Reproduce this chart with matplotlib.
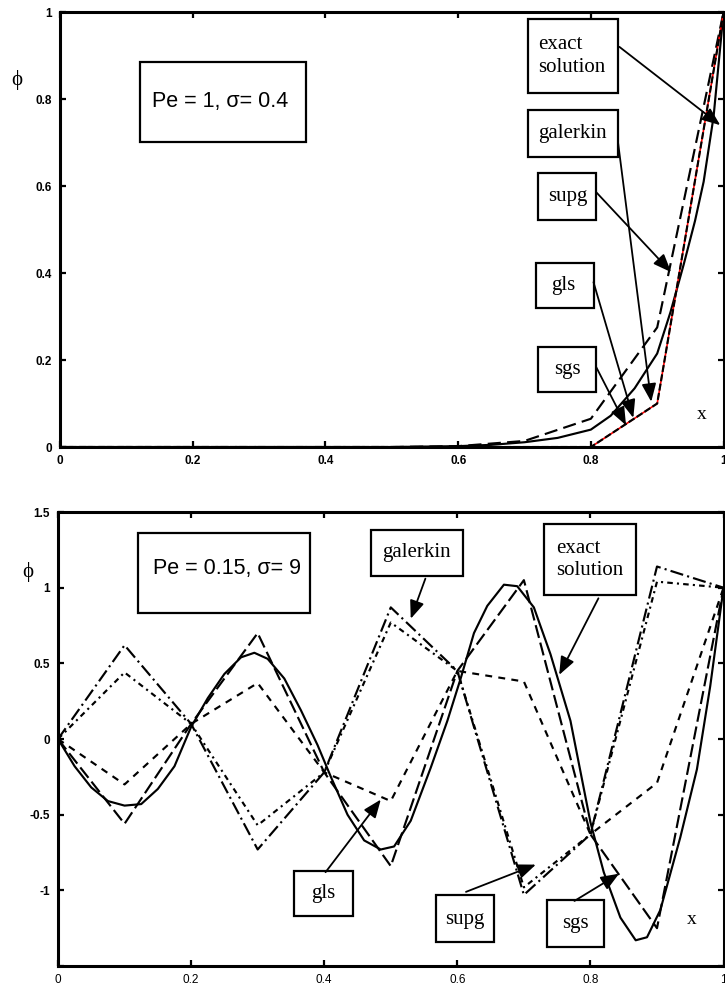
import numpy as np
import matplotlib
matplotlib.use("Agg")
import matplotlib.pyplot as plt
from matplotlib.patches import Rectangle

# ---- datos ----
nodos = [0.0, 0.1, 0.2, 0.3, 0.4, 0.5, 0.6, 0.7, 0.8, 0.9, 1.0]

# panel superior: Pe = 1, sigma = 0.4
x_exacta_1 = [0.0, 0.1, 0.2, 0.3, 0.4, 0.5, 0.6, 0.65, 0.7, 0.75, 0.8, 0.83,
              0.866, 0.9, 0.92, 0.94, 0.957, 0.97, 0.985, 1.0]
y_exacta_1 = [0.0, 0.0, 0.0, 0.0, 0.0, 0.0, 0.002, 0.005, 0.011, 0.021, 0.04,
              0.072, 0.135, 0.215, 0.31, 0.42, 0.52, 0.61, 0.76, 1.0]
supg_1 = [0.0, 0.0, 0.0, 0.0, 0.0, 0.0, 0.002, 0.014, 0.065, 0.275, 1.0]
galerkin_1 = [0.0, 0.0, 0.0, 0.0, 0.0, 0.0, 0.0, 0.0, 0.0, 0.10, 1.0]
gls_sgs_1 = [0.0, 0.0, 0.0, 0.0, 0.0, 0.0, 0.0, 0.0, 0.0, 0.10, 1.0]

# panel inferior: Pe = 0.15, sigma = 9
x_exacta_2 = [0.0, 0.025, 0.05, 0.075, 0.1, 0.125, 0.15, 0.175, 0.2, 0.225,
              0.25, 0.275, 0.295, 0.315, 0.34, 0.365, 0.39, 0.41, 0.435, 0.46,
              0.485, 0.505, 0.53, 0.56, 0.585, 0.605, 0.625, 0.645, 0.67, 0.69,
              0.715, 0.74, 0.77, 0.8, 0.82, 0.845, 0.868, 0.885, 0.905, 0.935,
              0.96, 0.98, 1.0]
y_exacta_2 = [0.0, -0.18, -0.32, -0.41, -0.44, -0.43, -0.33, -0.18, 0.08, 0.27,
              0.43, 0.54, 0.57, 0.53, 0.40, 0.19, -0.04, -0.25, -0.50, -0.67,
              -0.73, -0.71, -0.54, -0.19, 0.12, 0.40, 0.70, 0.88, 1.02, 1.01,
              0.87, 0.56, 0.12, -0.55, -0.88, -1.18, -1.33, -1.31, -1.13, -0.65,
              -0.20, 0.35, 1.0]
galerkin_2 = [0.0, 0.62, 0.10, -0.73, -0.22, 0.87, 0.45, -1.03, -0.63, 1.14, 1.0]
supg_2 = [0.0, 0.44, 0.10, -0.57, -0.22, 0.77, 0.45, -0.98, -0.63, 1.04, 1.0]
gls_2 = [0.0, -0.30, 0.10, 0.37, -0.22, -0.41, 0.45, 0.38, -0.63, -0.29, 1.0]
sgs_2 = [0.0, -0.56, 0.10, 0.70, -0.22, -0.84, 0.45, 1.05, -0.63, -1.25, 1.0]

plt.rcParams['lines.scale_dashes'] = False

pe_font = ['Liberation Sans', 'DejaVu Sans']
pe_size = 15.5
serif = ['Liberation Serif', 'DejaVu Serif']
lw = 1.55

fig = plt.figure(figsize=(7.25, 10.05), dpi=100)
ax1 = fig.add_axes([0.0828, 0.5552, 0.9152, 0.4328])
ax2 = fig.add_axes([0.0800, 0.0388, 0.9180, 0.4517])


def estilo(ax):
    for s in ax.spines.values():
        s.set_linewidth(2.2)
    ax.tick_params(direction='in', length=4, width=1.6, top=True, right=True,
                   labelsize=8.5, pad=6)
    for lab in ax.get_xticklabels() + ax.get_yticklabels():
        lab.set_fontweight('bold')
        lab.set_family('Liberation Sans')


def caja(ax, x0, x1, y0, y1):
    ax.add_patch(Rectangle((x0, y0), x1 - x0, y1 - y0, fill=True, fc='white',
                           ec='black', lw=1.6, zorder=5))


def flecha(ax, desde, hasta):
    ax.annotate('', xy=hasta, xytext=desde, zorder=6,
                arrowprops=dict(arrowstyle='-|>,head_length=0.55,head_width=0.22',
                                color='black', lw=1.3, shrinkA=0, shrinkB=0,
                                mutation_scale=20))


# ---------- panel superior ----------
ax1.plot(x_exacta_1, y_exacta_1, color='black', lw=lw)
ax1.plot(nodos, supg_1, color='black', lw=lw, dashes=(9.5, 4.5))
ax1.plot(nodos, galerkin_1, color='red', lw=1.2)
ax1.plot(nodos, gls_sgs_1, color='black', lw=lw, dashes=(5, 1.8))
ax1.set_xlim(0, 1)
ax1.set_ylim(0, 1)
ax1.set_xticks([0, 0.2, 0.4, 0.6, 0.8, 1])
ax1.set_xticklabels(['0', '0.2', '0.4', '0.6', '0.8', '1'])
ax1.set_yticks([0, 0.2, 0.4, 0.6, 0.8, 1])
ax1.set_yticklabels(['0', '0.2', '0.4', '0.6', '0.8', '1'])
estilo(ax1)

caja(ax1, 0.121, 0.370, 0.701, 0.885)
ax1.text(0.139, 0.795, 'Pe = 1, σ= 0.4', family=pe_font, fontsize=pe_size,
         va='center', ha='left', zorder=7)

caja(ax1, 0.705, 0.841, 0.814, 0.984)
ax1.text(0.721, 0.899, 'exact\nsolution', family=serif, fontsize=15,
         va='center', ha='left', linespacing=1.25, zorder=7)
flecha(ax1, (0.843, 0.92), (0.995, 0.74))

caja(ax1, 0.705, 0.841, 0.667, 0.775)
ax1.text(0.773, 0.721, 'galerkin', family=serif, fontsize=15,
         va='center', ha='center', zorder=7)
flecha(ax1, (0.841, 0.70), (0.891, 0.104))

caja(ax1, 0.721, 0.808, 0.522, 0.630)
ax1.text(0.766, 0.576, 'supg', family=serif, fontsize=15,
         va='center', ha='center', zorder=7)
flecha(ax1, (0.808, 0.586), (0.921, 0.402))

caja(ax1, 0.718, 0.805, 0.320, 0.423)
ax1.text(0.758, 0.372, 'gls', family=serif, fontsize=15,
         va='center', ha='center', zorder=7)
flecha(ax1, (0.804, 0.379), (0.864, 0.067))

caja(ax1, 0.721, 0.808, 0.126, 0.230)
ax1.text(0.764, 0.178, 'sgs', family=serif, fontsize=15,
         va='center', ha='center', zorder=7)
flecha(ax1, (0.808, 0.184), (0.853, 0.05))

ax1.text(0.967, 0.074, 'x', family=serif, fontsize=14, va='center', ha='center')
fig.text(17 / 725, 1 - 80 / 1005, 'ϕ', family=serif, fontsize=15,
         va='center', ha='center')

# ---------- panel inferior ----------
ax2.plot(x_exacta_2, y_exacta_2, color='black', lw=lw)
ax2.plot(nodos, sgs_2, color='black', lw=lw, dashes=(9.5, 3.5))
ax2.plot(nodos, gls_2, color='black', lw=lw, dashes=(5, 4.5))
ax2.plot(nodos, galerkin_2, color='black', lw=lw, dashes=(9.5, 3, 1.5, 3))
ax2.plot(nodos, supg_2, color='black', lw=lw, dashes=(4, 3, 1.5, 3))
ax2.set_xlim(0, 1)
ax2.set_ylim(-1.5, 1.5)
ax2.set_xticks([0, 0.2, 0.4, 0.6, 0.8, 1])
ax2.set_xticklabels(['0', '0.2', '0.4', '0.6', '0.8', '1'])
ax2.set_yticks([-1.5, -1, -0.5, 0, 0.5, 1, 1.5])
ax2.set_yticklabels(['', '-1', '-0.5', '0', '0.5', '1', '1.5'])
estilo(ax2)
for lab in ax2.get_xticklabels():
    lab.set_fontweight('normal')

caja(ax2, 0.120, 0.378, 0.834, 1.364)
ax2.text(0.143, 1.126, 'Pe = 0.15, σ= 9', family=pe_font, fontsize=pe_size,
         va='center', ha='left', zorder=7)

caja(ax2, 0.470, 0.608, 1.080, 1.384)
ax2.text(0.539, 1.232, 'galerkin', family=serif, fontsize=15,
         va='center', ha='center', zorder=7)
flecha(ax2, (0.552, 1.06), (0.530, 0.795))

caja(ax2, 0.730, 0.869, 0.954, 1.424)
ax2.text(0.748, 1.185, 'exact\nsolution', family=serif, fontsize=15,
         va='center', ha='left', linespacing=1.25, zorder=7)
flecha(ax2, (0.812, 0.93), (0.753, 0.424))

caja(ax2, 0.354, 0.443, -1.172, -0.874)
ax2.text(0.398, -1.023, 'gls', family=serif, fontsize=15,
         va='center', ha='center', zorder=7)
flecha(ax2, (0.402, -0.88), (0.485, -0.40))

caja(ax2, 0.568, 0.655, -1.344, -1.033)
ax2.text(0.611, -1.19, 'supg', family=serif, fontsize=15,
         va='center', ha='center', zorder=7)
flecha(ax2, (0.613, -1.01), (0.718, -0.83))

caja(ax2, 0.735, 0.821, -1.377, -1.066)
ax2.text(0.778, -1.22, 'sgs', family=serif, fontsize=15,
         va='center', ha='center', zorder=7)
flecha(ax2, (0.776, -1.07), (0.843, -0.89))

ax2.text(0.952, -1.19, 'x', family=serif, fontsize=14, va='center', ha='center')
fig.text(28 / 725, 1 - 572 / 1005, 'ϕ', family=serif, fontsize=15,
         va='center', ha='center')

fig.savefig('out.png', dpi=100)
